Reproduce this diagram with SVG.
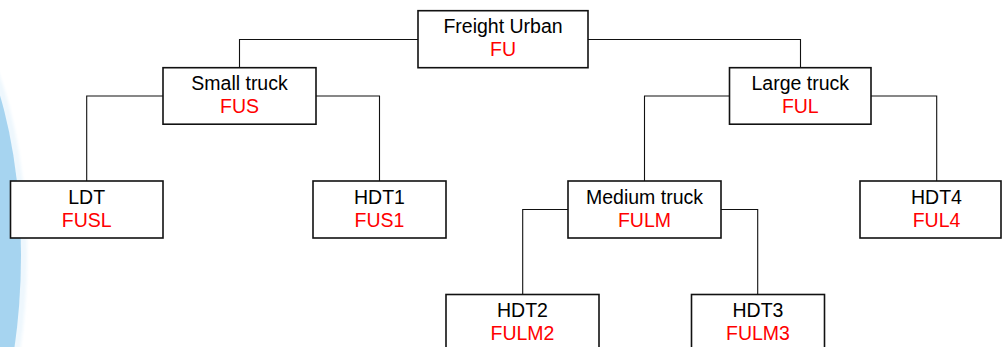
<svg xmlns="http://www.w3.org/2000/svg" width="1002" height="347" viewBox="0 0 1002 347">
<style>
.box{fill:#fff;stroke:#111;stroke-width:1.6}
.t{font-family:"Liberation Sans",Arial,sans-serif;font-size:19.5px;text-anchor:middle;fill:#000}
.r{fill:#ff0000}
.c{fill:none;stroke:#111;stroke-width:1.1}
</style>
<defs>
<filter id="soft" x="-50%" y="-50%" width="200%" height="200%"><feGaussianBlur stdDeviation="1.5"/></filter>
</defs>
<g id="backdrop">
<ellipse cx="-79" cy="255" rx="106" ry="268" fill="#eef7fd" filter="url(#soft)"/>
<ellipse cx="-79" cy="255" rx="100" ry="260" fill="#a6d4f0"/>
</g>
<g id="connectors" class="c">
<path class="c" d="M418,39.5 H239.5 V67.7"/>
<path class="c" d="M588,39.5 H800.5 V67.7"/>
<path class="c" d="M163,96 H86.7 V181"/>
<path class="c" d="M316,96 H379.5 V181"/>
<path class="c" d="M729.5,96 H644.5 V181"/>
<path class="c" d="M871,96 H936.7 V181"/>
<path class="c" d="M568,209.5 H522.7 V294.5"/>
<path class="c" d="M721,209.5 H757.7 V294.5"/>
</g>
<g id="FU">
<rect class="box" x="418" y="10.7" width="170" height="57"/>
<text class="t" x="503" y="33.3">Freight Urban</text>
<text class="t r" x="503" y="56.3">FU</text>
</g>
<g id="FUS">
<rect class="box" x="163" y="67.7" width="153" height="56.5"/>
<text class="t" x="239.5" y="90.3">Small truck</text>
<text class="t r" x="239.5" y="113.3">FUS</text>
</g>
<g id="FUL">
<rect class="box" x="729.5" y="67.7" width="141.5" height="56.5"/>
<text class="t" x="800.3" y="90.3">Large truck</text>
<text class="t r" x="800.3" y="113.3">FUL</text>
</g>
<g id="FUSL">
<rect class="box" x="10.5" y="181" width="152.5" height="57"/>
<text class="t" x="86.7" y="203.5">LDT</text>
<text class="t r" x="86.7" y="226.5">FUSL</text>
</g>
<g id="FUS1">
<rect class="box" x="313" y="181" width="133" height="57"/>
<text class="t" x="379.5" y="203.5">HDT1</text>
<text class="t r" x="379.5" y="226.5">FUS1</text>
</g>
<g id="FULM">
<rect class="box" x="568" y="181" width="153" height="57"/>
<text class="t" x="644.5" y="203.5">Medium truck</text>
<text class="t r" x="644.5" y="226.5">FULM</text>
</g>
<g id="FUL4">
<rect class="box" x="860" y="181" width="141" height="57"/>
<text class="t" x="936.5" y="203.5">HDT4</text>
<text class="t r" x="936.5" y="226.5">FUL4</text>
</g>
<g id="FULM2">
<rect class="box" x="446" y="294.5" width="153" height="57"/>
<text class="t" x="522.5" y="317">HDT2</text>
<text class="t r" x="522.5" y="340">FULM2</text>
</g>
<g id="FULM3">
<rect class="box" x="691.5" y="294.5" width="133" height="57"/>
<text class="t" x="758" y="317">HDT3</text>
<text class="t r" x="758" y="340">FULM3</text>
</g>
</svg>
